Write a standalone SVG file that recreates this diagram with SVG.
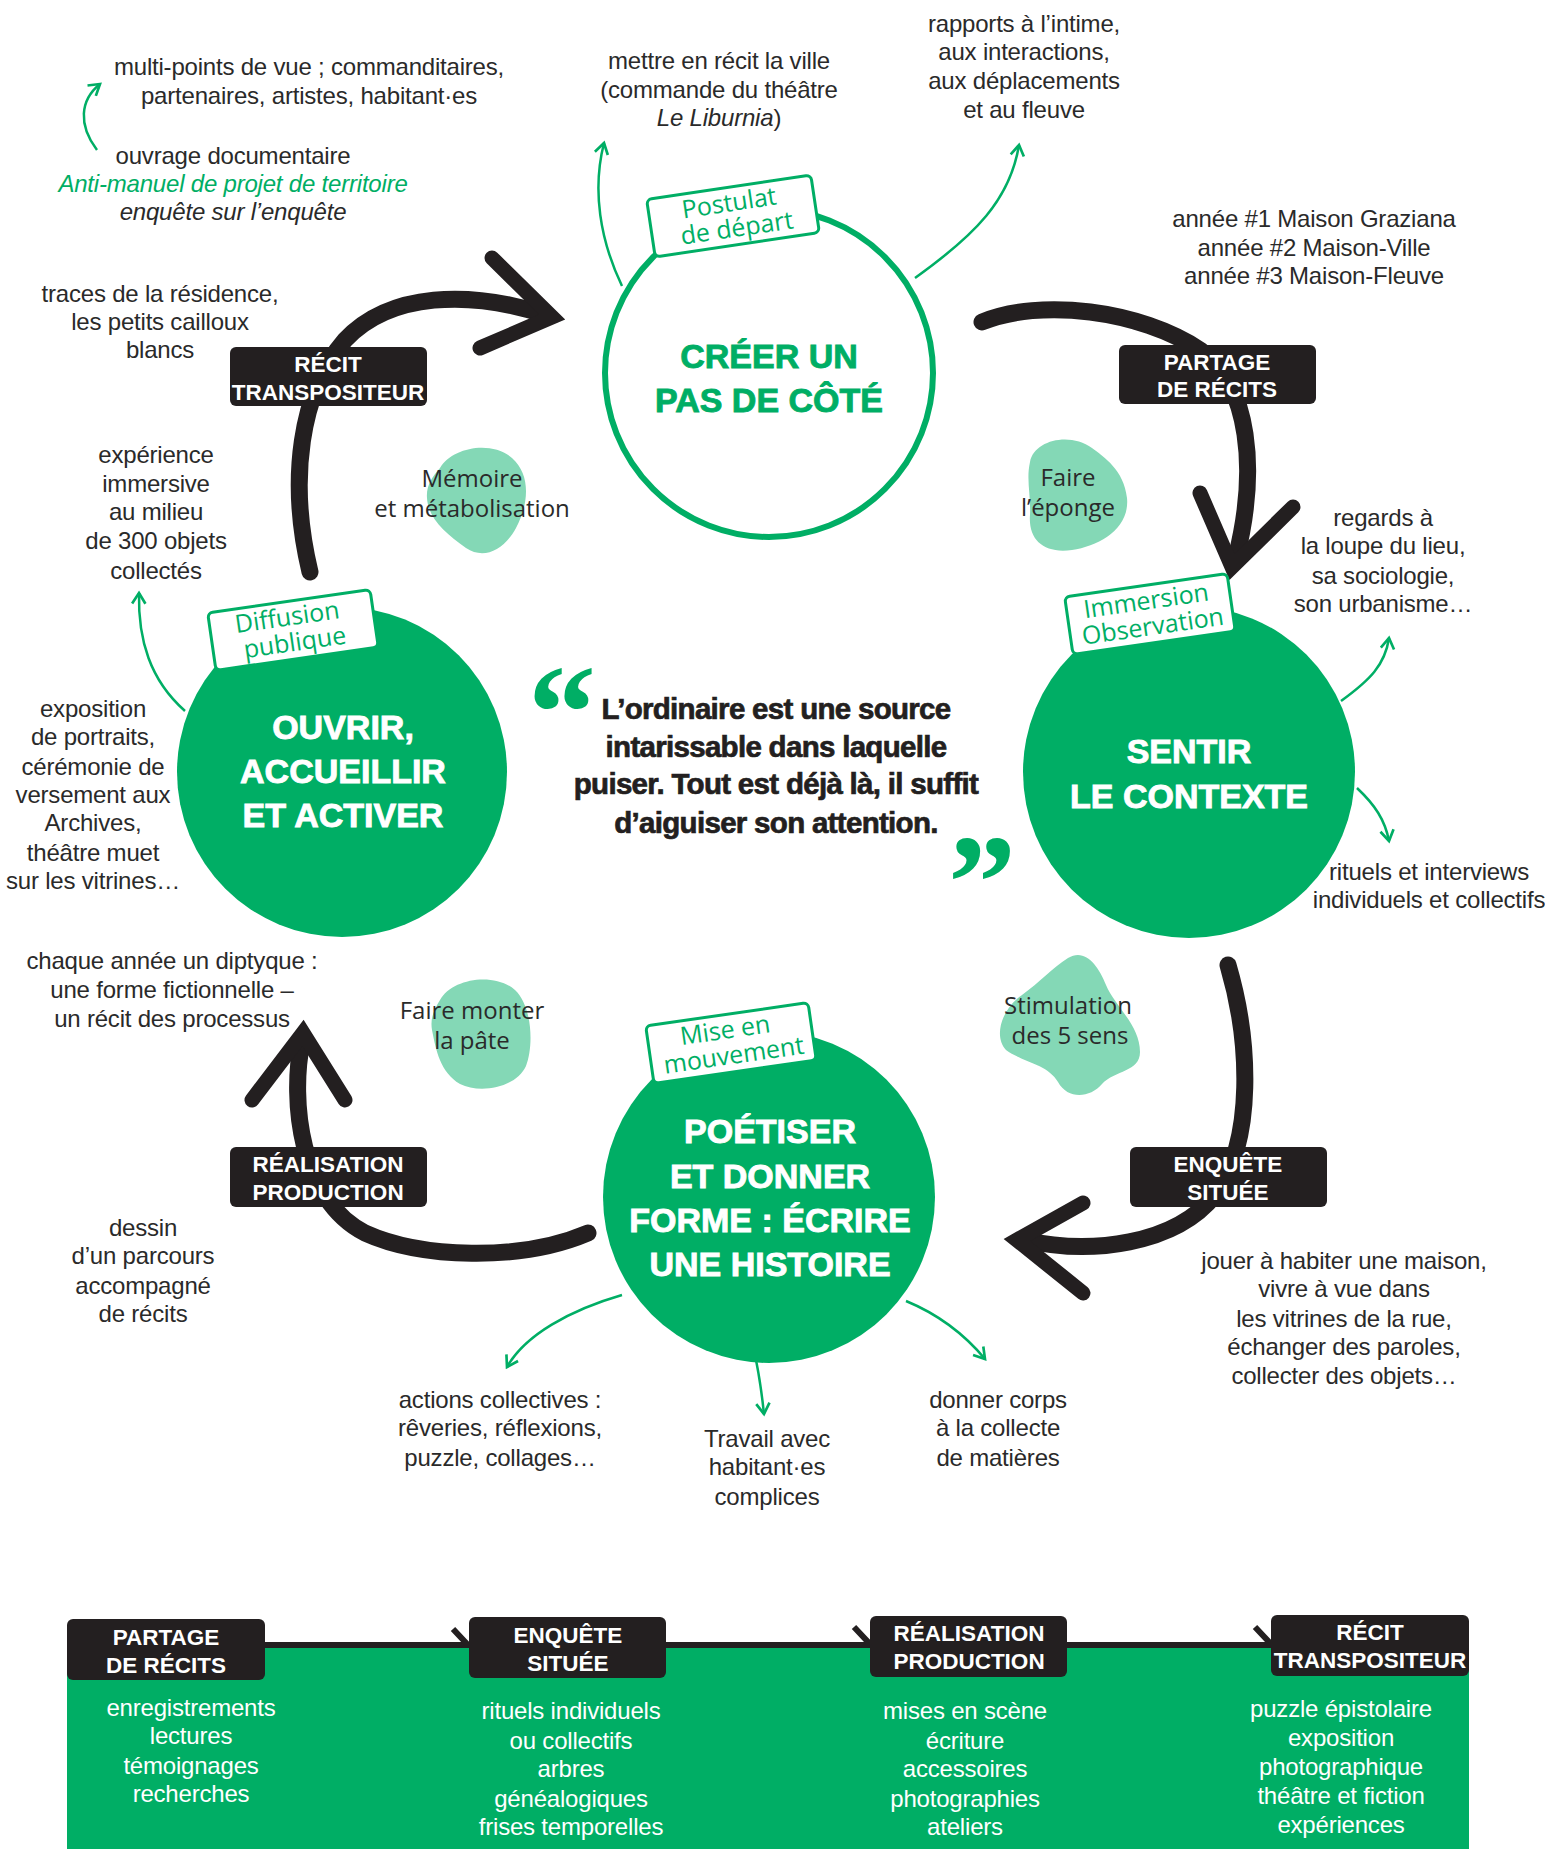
<svg xmlns="http://www.w3.org/2000/svg" width="1545" height="1849" viewBox="0 0 1545 1849">
<defs>
<style>
.t{font-family:"Liberation Sans",Arial,sans-serif;font-size:24px;fill:#2a2a2a;text-anchor:middle;letter-spacing:-0.2px}
.w{fill:#ffffff}
.it{font-style:italic}
.gt{fill:#00AE65}
.h{font-family:"Liberation Sans",Arial,sans-serif;font-weight:bold;font-size:34px;text-anchor:middle;stroke-width:0.9px}
.hw{fill:#ffffff;stroke:#ffffff}
.hg{fill:#00AE65;stroke:#00AE65}
.lab{font-family:"Liberation Sans",Arial,sans-serif;font-weight:bold;font-size:22.5px;fill:#ffffff;text-anchor:middle}
.bl{font-family:"Open Sans","Liberation Sans",sans-serif;font-size:24px;fill:#2a2a2a;text-anchor:middle}
.tag{font-family:"Open Sans","Liberation Sans",sans-serif;font-size:25px;fill:#00AE65;text-anchor:middle}
.q{font-family:"Liberation Sans",Arial,sans-serif;font-weight:bold;font-size:29.5px;fill:#231F20;stroke:#231F20;stroke-width:0.7px;text-anchor:middle;letter-spacing:-0.7px}
.qm{font-family:"Liberation Serif",serif;font-weight:bold;font-size:136px;fill:#00AE65}
.brush{fill:none;stroke:#231F20;stroke-width:17;stroke-linecap:round;stroke-linejoin:round}
.chev{fill:none;stroke:#231F20;stroke-width:15;stroke-linecap:round;stroke-linejoin:miter;stroke-miterlimit:8}
.ga{fill:none;stroke:#00AE65;stroke-width:2.5;marker-end:url(#ga)}
.bandline{fill:none;stroke:#231F20;stroke-width:6}
.labbox{fill:#231F20}
.tagbox{fill:#ffffff;stroke:#00AE65;stroke-width:3}
.blob{fill:#84D8B6}
</style>
<marker id="ga" viewBox="0 0 12 12" refX="10" refY="6" markerWidth="16" markerHeight="16" markerUnits="userSpaceOnUse" orient="auto">
<path d="M2,1 L10,6 L2,11" fill="none" stroke="#00AE65" stroke-width="2"/>
</marker>
</defs>
<rect width="1545" height="1849" fill="#ffffff"/>

<g id="blobs">
<path class="blob" d="M440,468 C452,447 492,440 512,458 C532,476 528,505 516,528 C504,550 484,560 466,548 C446,534 428,518 427,498 C426,486 432,477 440,468 Z"/>
<path class="blob" d="M1030,462 C1034,440 1070,432 1092,448 C1104,457 1124,470 1127,498 C1130,528 1100,546 1072,550 C1044,554 1028,540 1030,515 C1031,495 1026,480 1030,462 Z"/>
<path class="blob" d="M440,1000 C452,978 495,972 515,990 C532,1006 534,1045 526,1066 C516,1088 480,1094 460,1084 C440,1072 436,1050 432,1030 C430,1018 434,1010 440,1000 Z"/>
<path class="blob" d="M1068,958 C1085,948 1098,965 1106,985 C1114,1005 1140,1025 1140,1052 C1140,1072 1115,1070 1102,1084 C1090,1098 1068,1100 1058,1082 C1048,1064 1022,1062 1006,1050 C994,1038 1000,1010 1022,995 C1040,982 1052,968 1068,958 Z"/>
</g>

<g id="connectors">
<path class="brush" d="M310,572 C288,480 300,392 345,340 C390,292 470,290 546,315"/>
<path class="chev" d="M492,258 L552,317 L480,348"/>
<path class="brush" d="M982,322 C1040,298 1140,310 1200,350 C1250,385 1258,470 1236,558"/>
<path class="chev" d="M1200,493 L1232,567 L1293,507"/>
<path class="brush" d="M1228,965 C1250,1040 1255,1140 1215,1195 C1175,1245 1090,1255 1025,1240"/>
<path class="chev" d="M1083,1203 L1017,1240 L1083,1293"/>
<path class="brush" d="M588,1233 C520,1262 420,1258 365,1233 C300,1200 290,1100 302,1042"/>
<path class="chev" d="M252,1100 L303,1033 L345,1100"/>

<path class="ga" d="M97,150 C78,125 80,100 100,84"/>
<path class="ga" d="M622,286 C600,240 592,190 604,143"/>
<path class="ga" d="M915,278 C975,235 1010,200 1019,145"/>
<path class="ga" d="M185,711 C150,680 138,640 139,593"/>
<path class="ga" d="M1341,701 C1370,680 1385,665 1389,638"/>
<path class="ga" d="M1357,788 C1375,805 1385,820 1389,841"/>
<path class="ga" d="M622,1295 C570,1310 525,1335 507,1367"/>
<path class="ga" d="M756,1360 C760,1380 762,1395 764,1414"/>
<path class="ga" d="M906,1301 C940,1315 965,1335 985,1359"/>

<path class="bandline" d="M265,1645 H1271"/>
<path class="bandline" d="M453,1629 L468,1645 L453,1661"/>
<path class="bandline" d="M854,1627 L869,1643 L854,1659"/>
<path class="bandline" d="M1255,1627 L1270,1643 L1255,1659"/>
</g>

<g id="node-creer">
<circle cx="769" cy="373" r="164" fill="#ffffff" stroke="#00AE65" stroke-width="6"/>
<text class="h hg" x="769" y="368">CRÉER UN</text>
<text class="h hg" x="769" y="412">PAS DE CÔTÉ</text>
<g transform="translate(733,216) rotate(-8.5)">
<rect class="tagbox" x="-83" y="-29" width="166" height="58" rx="5"/>
<text class="tag" x="-2" y="-5">Postulat</text>
<text class="tag" x="2" y="21">de départ</text>
</g>
</g>

<g id="node-ouvrir">
<circle cx="342" cy="772" r="165" fill="#00AE65"/>
<text class="h hw" x="343" y="739">OUVRIR,</text>
<text class="h hw" x="343" y="783">ACCUEILLIR</text>
<text class="h hw" x="343" y="827">ET ACTIVER</text>
<g transform="translate(293,630) rotate(-8.2)">
<rect class="tagbox" x="-82" y="-29" width="164" height="58" rx="5"/>
<text class="tag" x="-4" y="-5">Diffusion</text>
<text class="tag" x="0" y="21">publique</text>
</g>
</g>

<g id="node-sentir">
<circle cx="1189" cy="772" r="166" fill="#00AE65"/>
<text class="h hw" x="1189" y="763">SENTIR</text>
<text class="h hw" x="1189" y="808">LE CONTEXTE</text>
<g transform="translate(1150,614) rotate(-8.2)">
<rect class="tagbox" x="-82" y="-29" width="164" height="58" rx="5"/>
<text class="tag" x="-2" y="-5">Immersion</text>
<text class="tag" x="1" y="21">Observation</text>
</g>
</g>

<g id="node-poetiser">
<circle cx="769" cy="1197" r="166" fill="#00AE65"/>
<text class="h hw" x="770" y="1143">POÉTISER</text>
<text class="h hw" x="770" y="1188">ET DONNER</text>
<text class="h hw" x="770" y="1232">FORME : ÉCRIRE</text>
<text class="h hw" x="770" y="1276">UNE HISTOIRE</text>
<g transform="translate(731,1043) rotate(-8.2)">
<rect class="tagbox" x="-82" y="-29" width="164" height="58" rx="5"/>
<text class="tag" x="-4" y="-5">Mise en</text>
<text class="tag" x="1" y="21">mouvement</text>
</g>
</g>

<g id="label-recit">
<rect class="labbox" x="230" y="347" width="197" height="59" rx="6"/>
<text class="lab" x="328" y="372">RÉCIT</text>
<text class="lab" x="328" y="400">TRANSPOSITEUR</text>
</g>
<g id="label-partage">
<rect class="labbox" x="1119" y="345" width="197" height="59" rx="6"/>
<text class="lab" x="1217" y="370">PARTAGE</text>
<text class="lab" x="1217" y="397">DE RÉCITS</text>
</g>
<g id="label-enquete">
<rect class="labbox" x="1130" y="1147" width="197" height="60" rx="6"/>
<text class="lab" x="1228" y="1172">ENQUÊTE</text>
<text class="lab" x="1228" y="1200">SITUÉE</text>
</g>
<g id="label-realisation">
<rect class="labbox" x="230" y="1147" width="197" height="60" rx="6"/>
<text class="lab" x="328" y="1172">RÉALISATION</text>
<text class="lab" x="328" y="1200">PRODUCTION</text>
</g>

<g id="blob-texts">
<text class="bl" x="472" y="487">Mémoire</text>
<text class="bl" x="472" y="517">et métabolisation</text>
<text class="bl" x="1068" y="486">Faire</text>
<text class="bl" x="1068" y="516">l’éponge</text>
<text class="bl" x="472" y="1019">Faire monter</text>
<text class="bl" x="472" y="1049">la pâte</text>
<text class="bl" x="1068" y="1014">Stimulation</text>
<text class="bl" x="1070" y="1044">des 5 sens</text>
</g>

<g id="notes">
<text class="t" x="309" y="75">multi-points de vue ; commanditaires,</text>
<text class="t" x="309" y="104">partenaires, artistes, habitant·es</text>
<text class="t" x="233" y="164">ouvrage documentaire</text>
<text class="t it gt" x="233" y="192">Anti-manuel de projet de territoire</text>
<text class="t it" x="233" y="220">enquête sur l’enquête</text>

<text class="t" x="160" y="302">traces de la résidence,</text>
<text class="t" x="160" y="330">les petits cailloux</text>
<text class="t" x="160" y="358">blancs</text>

<text class="t" x="156" y="463">expérience</text>
<text class="t" x="156" y="492">immersive</text>
<text class="t" x="156" y="520">au milieu</text>
<text class="t" x="156" y="549">de 300 objets</text>
<text class="t" x="156" y="579">collectés</text>

<text class="t" x="93" y="717">exposition</text>
<text class="t" x="93" y="745">de portraits,</text>
<text class="t" x="93" y="775">cérémonie de</text>
<text class="t" x="93" y="803">versement aux</text>
<text class="t" x="93" y="831">Archives,</text>
<text class="t" x="93" y="861">théâtre muet</text>
<text class="t" x="93" y="889">sur les vitrines…</text>

<text class="t" x="172" y="969">chaque année un diptyque :</text>
<text class="t" x="172" y="998">une forme fictionnelle –</text>
<text class="t" x="172" y="1027">un récit des processus</text>

<text class="t" x="143" y="1236">dessin</text>
<text class="t" x="143" y="1264">d’un parcours</text>
<text class="t" x="143" y="1294">accompagné</text>
<text class="t" x="143" y="1322">de récits</text>

<text class="t" x="719" y="69">mettre en récit la ville</text>
<text class="t" x="719" y="98">(commande du théâtre</text>
<text class="t" x="719" y="126"><tspan class="it">Le Liburnia</tspan>)</text>

<text class="t" x="1024" y="32">rapports à l’intime,</text>
<text class="t" x="1024" y="60">aux interactions,</text>
<text class="t" x="1024" y="89">aux déplacements</text>
<text class="t" x="1024" y="118">et au fleuve</text>

<text class="t" x="1314" y="227">année #1 Maison Graziana</text>
<text class="t" x="1314" y="256">année #2 Maison-Ville</text>
<text class="t" x="1314" y="284">année #3 Maison-Fleuve</text>

<text class="t" x="1383" y="526">regards à</text>
<text class="t" x="1383" y="554">la loupe du lieu,</text>
<text class="t" x="1383" y="584">sa sociologie,</text>
<text class="t" x="1383" y="612">son urbanisme…</text>

<text class="t" x="1429" y="880">rituels et interviews</text>
<text class="t" x="1429" y="908">individuels et collectifs</text>

<text class="t" x="1344" y="1269">jouer à habiter une maison,</text>
<text class="t" x="1344" y="1297">vivre à vue dans</text>
<text class="t" x="1344" y="1327">les vitrines de la rue,</text>
<text class="t" x="1344" y="1355">échanger des paroles,</text>
<text class="t" x="1344" y="1384">collecter des objets…</text>

<text class="t" x="500" y="1408">actions collectives :</text>
<text class="t" x="500" y="1436">rêveries, réflexions,</text>
<text class="t" x="500" y="1466">puzzle, collages…</text>

<text class="t" x="767" y="1447">Travail avec</text>
<text class="t" x="767" y="1475">habitant·es</text>
<text class="t" x="767" y="1505">complices</text>

<text class="t" x="998" y="1408">donner corps</text>
<text class="t" x="998" y="1436">à la collecte</text>
<text class="t" x="998" y="1466">de matières</text>
</g>

<g id="quote">
<text class="qm" x="528" y="758">“</text>
<text class="qm" x="948" y="928">”</text>
<text class="q" x="776" y="719">L’ordinaire est une source</text>
<text class="q" x="776" y="757">intarissable dans laquelle</text>
<text class="q" x="776" y="794">puiser. Tout est déjà là, il suffit</text>
<text class="q" x="776" y="833">d’aiguiser son attention.</text>
</g>

<g id="band">
<rect x="67" y="1648" width="1402" height="201" fill="#00AE65"/>
<g id="band-partage">
<rect class="labbox" x="67" y="1619" width="198" height="61" rx="6"/>
<text class="lab" x="166" y="1645">PARTAGE</text>
<text class="lab" x="166" y="1673">DE RÉCITS</text>
<text class="t w" x="191" y="1716">enregistrements</text>
<text class="t w" x="191" y="1744">lectures</text>
<text class="t w" x="191" y="1774">témoignages</text>
<text class="t w" x="191" y="1802">recherches</text>
</g>
<g id="band-enquete">
<rect class="labbox" x="469" y="1617" width="197" height="61" rx="6"/>
<text class="lab" x="568" y="1643">ENQUÊTE</text>
<text class="lab" x="568" y="1671">SITUÉE</text>
<text class="t w" x="571" y="1719">rituels individuels</text>
<text class="t w" x="571" y="1749">ou collectifs</text>
<text class="t w" x="571" y="1777">arbres</text>
<text class="t w" x="571" y="1807">généalogiques</text>
<text class="t w" x="571" y="1835">frises temporelles</text>
</g>
<g id="band-realisation">
<rect class="labbox" x="870" y="1616" width="197" height="61" rx="6"/>
<text class="lab" x="969" y="1641">RÉALISATION</text>
<text class="lab" x="969" y="1669">PRODUCTION</text>
<text class="t w" x="965" y="1719">mises en scène</text>
<text class="t w" x="965" y="1749">écriture</text>
<text class="t w" x="965" y="1777">accessoires</text>
<text class="t w" x="965" y="1807">photographies</text>
<text class="t w" x="965" y="1835">ateliers</text>
</g>
<g id="band-recit">
<rect class="labbox" x="1271" y="1615" width="198" height="61" rx="6"/>
<text class="lab" x="1370" y="1640">RÉCIT</text>
<text class="lab" x="1370" y="1668">TRANSPOSITEUR</text>
<text class="t w" x="1341" y="1717">puzzle épistolaire</text>
<text class="t w" x="1341" y="1746">exposition</text>
<text class="t w" x="1341" y="1775">photographique</text>
<text class="t w" x="1341" y="1804">théâtre et fiction</text>
<text class="t w" x="1341" y="1833">expériences</text>
</g>
</g>
</svg>
